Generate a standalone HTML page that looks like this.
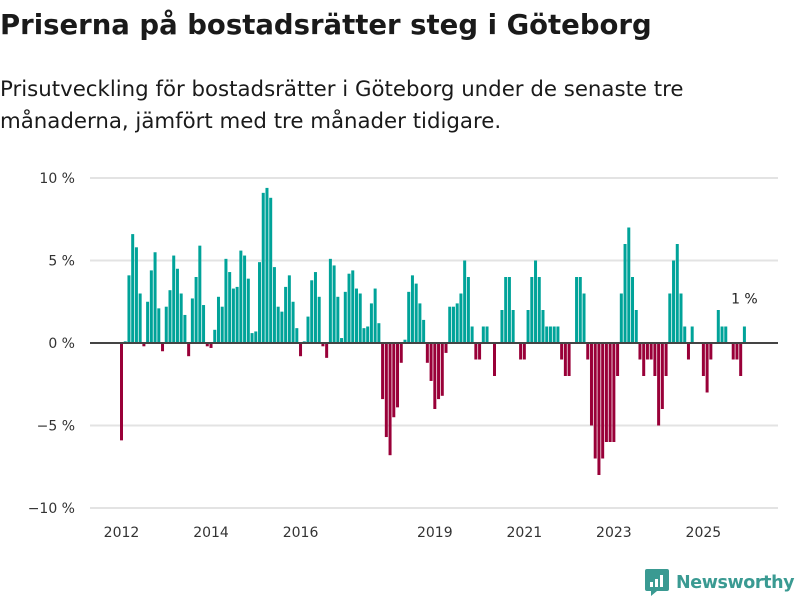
<!DOCTYPE html>
<html><head><meta charset="utf-8">
<style>
body{margin:0;background:#fff;width:800px;height:600px;overflow:hidden;font-family:"DejaVu Sans","Liberation Sans",sans-serif;color:#1a1a1a}
h1{position:absolute;left:0;top:0;margin:0;font-size:27.5px;font-weight:700;line-height:50px;letter-spacing:0;white-space:nowrap}
.sub{position:absolute;left:0;top:74px;margin:0;font-size:21.3px;line-height:32px;width:710px}
svg{position:absolute;left:0;top:0}
</style></head><body>
<h1>Priserna på bostadsrätter steg i Göteborg</h1>
<p class="sub">Prisutveckling för bostadsrätter i Göteborg under de senaste tre månaderna, jämfört med tre månader tidigare.</p>
<svg id="chart" width="800" height="600"></svg>
<script>
const values=[-5.9,0.1,4.1,6.6,5.8,3.0,-0.2,2.5,4.4,5.5,2.1,-0.5,2.2,3.2,5.3,4.5,3.0,1.7,-0.8,2.7,4.0,5.9,2.3,-0.2,-0.3,0.8,2.8,2.2,5.1,4.3,3.3,3.4,5.6,5.3,3.9,0.6,0.7,4.9,9.1,9.4,8.8,4.6,2.2,1.9,3.4,4.1,2.5,0.9,-0.8,0.1,1.6,3.8,4.3,2.8,-0.2,-0.9,5.1,4.7,2.8,0.3,3.1,4.2,4.4,3.3,3.0,0.9,1.0,2.4,3.3,1.2,-3.4,-5.7,-6.8,-4.5,-3.9,-1.2,0.2,3.1,4.1,3.6,2.4,1.4,-1.2,-2.3,-4.0,-3.4,-3.2,-0.6,2.2,2.2,2.4,3.0,5.0,4.0,1.0,-1.0,-1.0,1.0,1.0,0,-2.0,0,2.0,4.0,4.0,2.0,0,-1.0,-1.0,2.0,4.0,5.0,4.0,2.0,1.0,1.0,1.0,1.0,-1.0,-2.0,-2.0,0,4.0,4.0,3.0,-1.0,-5.0,-7.0,-8.0,-7.0,-6.0,-6.0,-6.0,-2.0,3.0,6.0,7.0,4.0,2.0,-1.0,-2.0,-1.0,-1.0,-2.0,-5.0,-4.0,-2.0,3.0,5.0,6.0,3.0,1.0,-1.0,1.0,0,0,-2.0,-3.0,-1.0,0,2.0,1.0,1.0,0,-1.0,-1.0,-2.0,1.0];
const startYear=2012;
const yTicks=[10,5,0,-5,-10];
const yTickLabels=["10 %","5 %","0 %","−5 %","−10 %"];
const xTickYears=[2012,2014,2016,2019,2021,2023,2025];
const lastLabel="1 %";

const NS="http://www.w3.org/2000/svg";
const svg=document.getElementById('chart');
const x0=121.5, step=3.73, barW=3.0;
const y=v=>343-v*16.5;
const xIdx=i=>x0+i*step;
function mk(t,a){const e=document.createElementNS(NS,t);for(const k in a)e.setAttribute(k,a[k]);svg.appendChild(e);return e;}
yTicks.forEach((t,i)=>{
  if(t!==0){const g=mk('line',{x1:90,x2:778,y1:y(t),y2:y(t),stroke:'#e3e3e3','stroke-width':2});
  
  }
  const l=mk('text',{x:75,y:y(t)+5,'text-anchor':'end','font-size':14,fill:'#333'});
  l.textContent=yTickLabels[i];
  
  
});
values.forEach((v,i)=>{
  if(v===0)return;
  const top=v>0?y(v):y(0), h=Math.abs(y(v)-y(0));
  const r=mk('rect',{x:xIdx(i)-barW/2,y:top,width:barW,height:h,fill:v>0?'#00a399':'#990038'});
  
  
});
const z=mk('line',{x1:90,x2:778,y1:y(0),y2:y(0),stroke:'#444','stroke-width':2});


xTickYears.forEach(yr=>{
  const t=mk('text',{x:xIdx((yr-startYear)*12),y:537,'text-anchor':'middle','font-size':14,fill:'#333'});
  t.textContent=String(yr);
  
  
});
const li=values.length-1;
const ll=mk('text',{x:xIdx(li),y:y(values[li])-23,'text-anchor':'middle','font-size':14,fill:'#222'});
ll.textContent=lastLabel;


</script>
<div style="position:absolute;left:645px;top:569px;display:flex;align-items:center">
 <svg width="24" height="27" viewBox="0 0 24 27" style="position:static">
  <path d="M2 0H22Q24 0 24 2V20Q24 22 22 22H12L6 27V22H2Q0 22 0 20V2Q0 0 2 0Z" fill="#3a9a92"/>
  <rect x="5" y="13" width="3" height="5" fill="#fff"/><rect x="10" y="10" width="3" height="8" fill="#fff"/><rect x="15" y="6" width="3" height="12" fill="#fff"/>
 </svg>
 <span style="margin-left:7px;font-size:17.5px;font-weight:700;color:#3a9a92;line-height:24px;letter-spacing:-0.4px">Newsworthy</span>
</div>
</body></html>
